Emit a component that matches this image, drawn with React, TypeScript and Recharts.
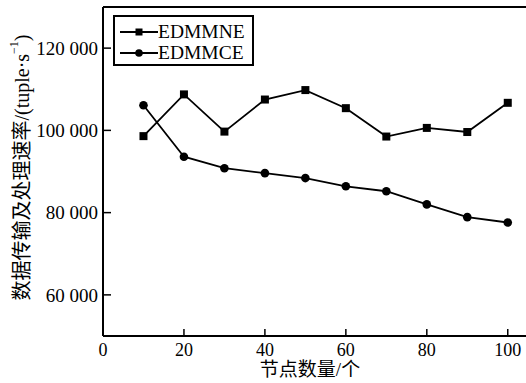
import { LineChart, Line, XAxis, YAxis, ReferenceLine } from 'recharts';

const nodes = [10, 20, 30, 40, 50, 60, 70, 80, 90, 100];
const edmmne = [98600, 108750, 99700, 107500, 109800, 105400, 98500, 100600, 99600, 106700];
const edmmce = [106100, 93600, 90800, 89600, 88400, 86400, 85200, 82000, 78900, 77600];
const xTicks = [0, 20, 40, 60, 80, 100];
const yTicks = [60000, 80000, 100000, 120000];
const seriesNames = ['EDMMNE', 'EDMMCE'];

const data = nodes.map((n, i) => ({ n, EDMMNE: edmmne[i], EDMMCE: edmmce[i] }));

const FONT = "'Liberation Serif', 'Noto Sans CJK SC', serif";

const fmt = (v: number) => `${Math.floor(v / 1000)} ${String(v % 1000).padStart(3, '0')}`;

const SquareDot = (p: any) => (
  <rect key={`s-${p.index}`} x={p.cx - 4} y={p.cy - 4} width={8} height={8} fill="#000" />
);

const YLabel = (p: any) => {
  const vb = p.viewBox;
  const cx = 22;
  const cy = vb.y + vb.height / 2 - 4;
  return (
    <text
      x={cx}
      y={cy}
      transform={`rotate(-90 ${cx} ${cy})`}
      textAnchor="middle"
      dominantBaseline="central"
      fontFamily={FONT}
      fontSize={20}
      fill="#000"
    >
      数据传输及处理速率/(tuple·s
      <tspan dy={-8} fontSize={12}>−1</tspan>
      <tspan dy={8}>)</tspan>
    </text>
  );
};

// x label sits at the very bottom of the picture
const XLabel = () => (
  <text x={310} y={376} textAnchor="middle" fontFamily={FONT} fontSize={19} fill="#000">
    节点数量/个
  </text>
);

const LegendBox = () => (
  <div
    style={{
      position: 'absolute',
      left: 113,
      top: 15,
      border: '2px solid #000',
      width: 132,
      padding: '4px 0 1px 5px',
      boxSizing: 'content-box',
      background: '#fff',
      fontFamily: FONT,
      fontSize: 19.5,
      lineHeight: '21px',
      color: '#000',
    }}
  >
    {seriesNames.map((name) => (
      <div key={name} style={{ display: 'flex', alignItems: 'center', height: 21 }}>
        <svg width={40} height={21}>
          <line x1={0} y1={11} x2={38} y2={11} stroke="#000" strokeWidth={1.8} />
          {name === 'EDMMNE' ? (
            <rect x={15.5} y={7.5} width={7} height={7} fill="#000" />
          ) : (
            <circle cx={19} cy={11} r={3.8} fill="#000" />
          )}
        </svg>
        <span style={{ marginLeft: -2 }}>{name}</span>
      </div>
    ))}
  </div>
);

export default function App() {
  return (
    <div
      style={{
        position: 'fixed',
        left: 0,
        top: 0,
        width: 526,
        height: 383,
        overflow: 'hidden',
        background: '#fff',
      }}
    >
      <LineChart width={540} height={383} data={data} margin={{ top: 7, right: 12, bottom: 0, left: 0 }}>
        <XAxis
          dataKey="n"
          type="number"
          domain={[0, 105]}
          ticks={xTicks}
          height={47}
          axisLine={{ stroke: '#000', strokeWidth: 2 }}
          tickLine={{ stroke: '#000', strokeWidth: 1.5 }}
          tickSize={-7}
          tickMargin={14}
          tick={{ fill: '#000', fontSize: 18, fontFamily: FONT }}
          label={<XLabel />}
        />
        <YAxis
          type="number"
          domain={[50000, 130000]}
          ticks={yTicks}
          width={103}
          allowDataOverflow
          axisLine={{ stroke: '#000', strokeWidth: 2 }}
          tickLine={{ stroke: '#000', strokeWidth: 1.5 }}
          tickSize={-8}
          tickMargin={13}
          tickFormatter={fmt}
          tick={{ fill: '#000', fontSize: 19, fontFamily: FONT }}
          label={<YLabel />}
        />
        <ReferenceLine y={130000} stroke="#000" strokeWidth={2} ifOverflow="visible" />
        <Line
          dataKey="EDMMNE"
          stroke="#000"
          strokeWidth={1.8}
          dot={SquareDot}
          activeDot={false}
          isAnimationActive={false}
        />
        <Line
          dataKey="EDMMCE"
          stroke="#000"
          strokeWidth={1.8}
          dot={{ r: 4.3, fill: '#000', stroke: '#000', strokeWidth: 0 }}
          activeDot={false}
          isAnimationActive={false}
        />
      </LineChart>
      <LegendBox />
    </div>
  );
}
